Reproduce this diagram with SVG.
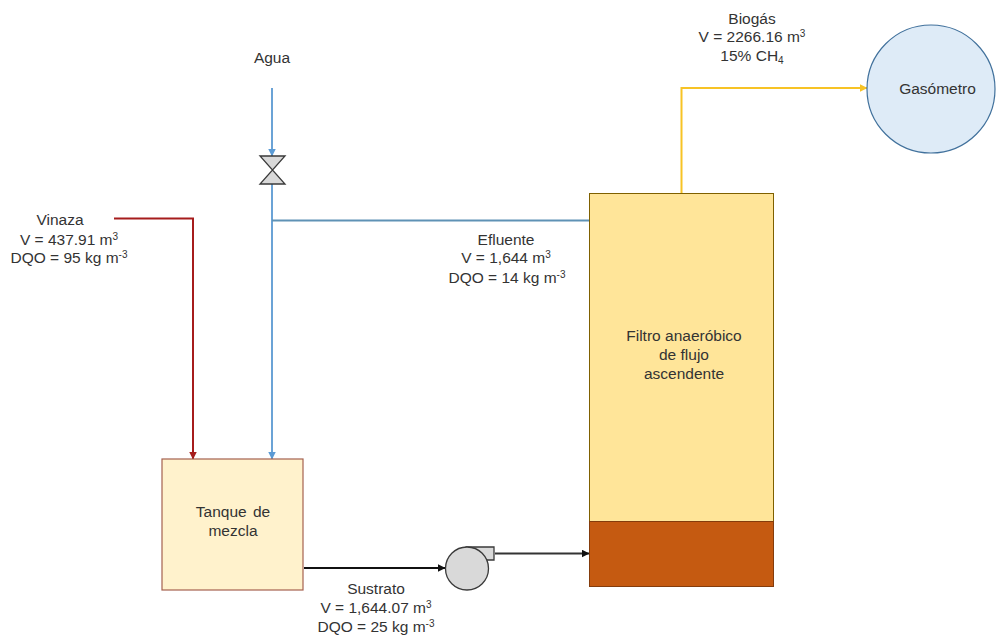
<svg xmlns="http://www.w3.org/2000/svg" width="996" height="636" viewBox="0 0 996 636">
<style>
text{font-family:"Liberation Sans",Arial,sans-serif;font-size:15.500px;fill:#333;text-anchor:middle}
.s{font-size:10px}
.c{fill:none;stroke-width:2}
.eq{fill:#d9d9d9;stroke:#3a3a3a;stroke-width:1.300}
</style>
<defs>
<marker id="aB" viewBox="0 0 8 8" refX="7.500" refY="4" markerWidth="8" markerHeight="8" markerUnits="userSpaceOnUse" orient="auto"><path d="M0 0L8 4L0 8Z" fill="#5b9bd5"/></marker>
<marker id="aR" viewBox="0 0 8 8" refX="7.500" refY="4" markerWidth="8" markerHeight="8" markerUnits="userSpaceOnUse" orient="auto"><path d="M0 0L8 4L0 8Z" fill="#a61c1c"/></marker>
<marker id="aY" viewBox="0 0 8 8" refX="7.500" refY="4" markerWidth="8" markerHeight="8" markerUnits="userSpaceOnUse" orient="auto"><path d="M0 0L8 4L0 8Z" fill="#f7c325"/></marker>
<marker id="aK" viewBox="0 0 8 8" refX="7.500" refY="4" markerWidth="8" markerHeight="8" markerUnits="userSpaceOnUse" orient="auto"><path d="M0 0L8 4L0 8Z" fill="#111"/></marker>
</defs>
<g id="connectors">
<path class="c" stroke="#6ba3d6" marker-end="url(#aB)" d="M272 88V156"/>
<path class="c" stroke="#6ba3d6" marker-end="url(#aB)" d="M272 184V459"/>
<path class="c" stroke="#5f92b5" d="M272 220.500H590"/>
<path class="c" stroke="#a61c1c" marker-end="url(#aR)" d="M114 218.500H193V459"/>
<path class="c" stroke="#f7c325" marker-end="url(#aY)" d="M681.500 194V88H867"/>
<path class="c" stroke="#111" marker-end="url(#aK)" d="M304 568H445"/>
<path class="c" stroke="#333" marker-end="url(#aK)" d="M495 553.500H589"/>
</g>
<g id="valve"><path class="eq" d="M260 156H285L260 184H285Z"/></g>
<g id="pump"><path class="eq" d="M467 547H494V560H485Z"/><circle class="eq" cx="467" cy="568.500" r="21.500"/></g>
<g id="tanque"><rect x="162" y="459" width="141" height="131" fill="#fff2cc" stroke="#a5614f" stroke-width="1.200"/><text x="233" y="517" word-spacing="2">Tanque de</text><text x="233" y="536">mezcla</text></g>
<g id="filtro"><rect x="589.500" y="193.500" width="184" height="328" fill="#ffe599" stroke="#7f6000" stroke-width="1"/><rect x="589.500" y="521.500" width="184" height="65" fill="#c55a11" stroke="#843c0c" stroke-width="1"/><text x="684" y="341">Filtro anaeróbico</text><text x="684" y="360">de flujo</text><text x="684" y="379">ascendente</text></g>
<g id="gasometro"><circle cx="931" cy="89" r="64" fill="#deebf7" stroke="#41719c" stroke-width="1.200"/><text x="937.500" y="94">Gasómetro</text></g>
<g id="labels">
<text x="272" y="63">Agua</text>
<text x="60" y="225">Vinaza</text>
<text x="69" y="245">V = 437.91 m<tspan class="s" dy="-5">3</tspan></text>
<text x="69" y="263">DQO = 95 kg m<tspan class="s" dy="-5">-3</tspan></text>
<text x="506" y="245">Efluente</text>
<text x="506" y="263">V = 1,644 m<tspan class="s" dy="-5">3</tspan></text>
<text x="507" y="283">DQO = 14 kg m<tspan class="s" dy="-5">-3</tspan></text>
<text x="752" y="24">Biogás</text>
<text x="752" y="42">V = 2266.16 m<tspan class="s" dy="-5">3</tspan></text>
<text x="752" y="61">15% CH<tspan class="s" dy="3">4</tspan></text>
<text x="376" y="594">Sustrato</text>
<text x="376" y="613">V = 1,644.07 m<tspan class="s" dy="-5">3</tspan></text>
<text x="376" y="632">DQO = 25 kg m<tspan class="s" dy="-5">-3</tspan></text>
</g>
</svg>
